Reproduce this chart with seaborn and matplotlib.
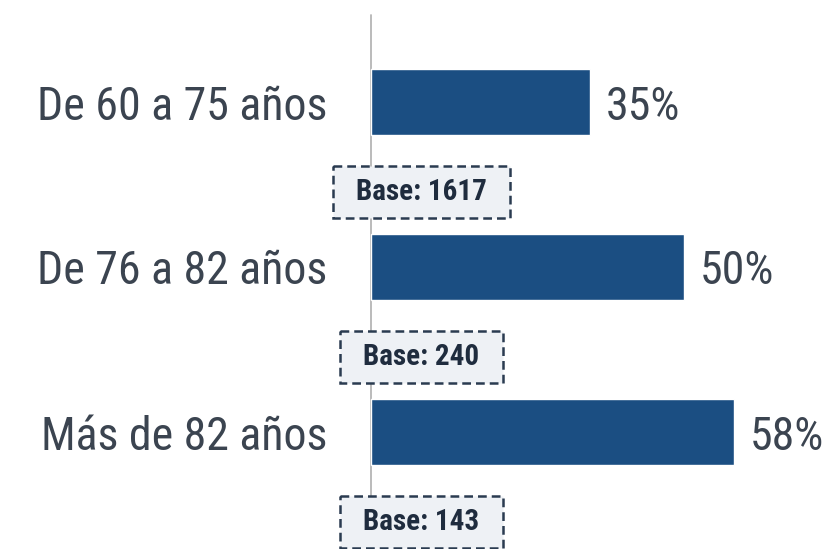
import matplotlib
matplotlib.use("Agg")
import matplotlib.pyplot as plt
import seaborn as sns
import pandas as pd
from matplotlib.patches import Rectangle

# Data
categories = ["De 60 a 75 años", "De 76 a 82 años", "Más de 82 años"]
values = [35, 50, 58]
bases = [1617, 240, 143]

sns.set_theme(style="white")
plt.rcParams["font.family"] = ["Roboto Condensed", "Roboto", "DejaVu Sans"]

df = pd.DataFrame({"grupo": categories, "pct": values})

W, H = 838, 549
fig = plt.figure(figsize=(W / 100, H / 100), dpi=100)
ax = fig.add_axes([0, 0, 1, 1])

bar_color = "#1b4e82"
text_color = "#3b4450"
box_color = "#2a3b50"

sns.barplot(data=df, y="grupo", x="pct", orient="h", color=bar_color,
            saturation=1, width=0.394, ax=ax)

# pixel-based scale: zero at x=371, 6.25 px per percentage point
px_per_unit = 6.25
x0 = 371
ax.set_xlim(-x0 / px_per_unit, (W - x0) / px_per_unit)
ax.set_ylim((H - 102) / 165, -102 / 165)

for s in ax.spines.values():
    s.set_visible(False)
ax.set_xticks([])
ax.set_yticks([])
ax.set_xlabel("")
ax.set_ylabel("")

# axis line
ax.axvline(0, ymin=0, ymax=(H - 15) / H, color="#b5b5b5", lw=1.3, zorder=0)

# category labels and values
for i, (cat, v) in enumerate(zip(categories, values)):
    ax.text(-44 / px_per_unit, i, cat, ha="right", va="center_baseline",
            fontsize=33, color=text_color)
    ax.text(v + 16 / px_per_unit, i, f"{v}%", ha="left", va="center_baseline",
            fontsize=33, color=text_color)

# base labels with dashed frames
fig.canvas.draw()
renderer = fig.canvas.get_renderer()
for i, b in enumerate(bases):
    t = ax.text(50.5 / px_per_unit, i + 0.545, f"Base: {b}", ha="center",
                va="center", fontsize=21, fontweight="bold", color="#1f2c3e",
                zorder=5)
    bb = t.get_window_extent(renderer)
    padx = 23
    pady = (52 - bb.height) / 2
    inv = ax.transData.inverted()
    (xa, ya) = inv.transform((bb.x0 - padx, bb.y0 - pady))
    (xb, yb) = inv.transform((bb.x1 + padx, bb.y1 + pady))
    rect = Rectangle((min(xa, xb), min(ya, yb)), abs(xb - xa), abs(yb - ya),
                     facecolor="#eef1f5", edgecolor=box_color, lw=1.8,
                     linestyle=(0, (3.5, 2)), zorder=4)
    ax.add_patch(rect)

fig.savefig("out.png", dpi=100)
